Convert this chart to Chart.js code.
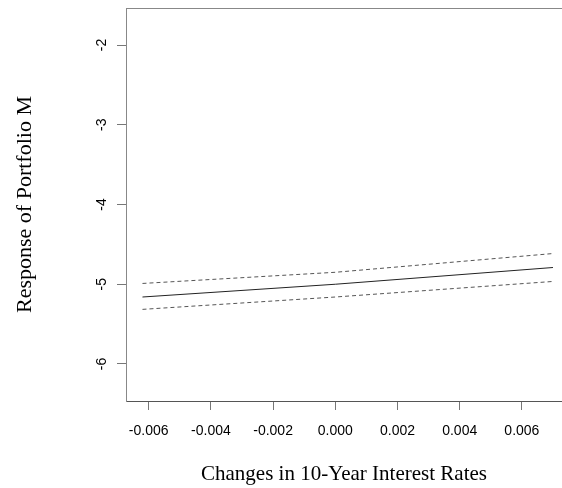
<!DOCTYPE html>
<html>
<head>
<meta charset="utf-8">
<script src="https://cdn.jsdelivr.net/npm/chart.js@4"></script>
<style>
  html, body { margin: 0; padding: 0; background: #fff; overflow: hidden; }
  #wrap { width: 562px; height: 488px; }
</style>
</head>
<body>
<div id="wrap"><canvas id="chart" width="562" height="488"></canvas></div>
<script>
// Values
const rateChange = [-0.0062, 0.0000, 0.0070];
const fitted = [-5.16, -5.00, -4.79];
const upperBand = [-4.99, -4.85, -4.615];
const lowerBand = [-5.315, -5.16, -4.965];

const xTicks = [-0.006, -0.004, -0.002, 0.000, 0.002, 0.004, 0.006];
const yTicks = [-6, -5, -4, -3, -2];

const xRange = [-0.00673, 0.00729];
const yRange = [-6.464, -1.536];

const toPoints = ys => rateChange.map((x, i) => ({ x: x, y: ys[i] }));

// top frame line (R box is cut at the right edge of the picture)
const topFrame = {
    id: 'topFrame',
    afterDraw(chart) {
        const a = chart.chartArea;
        const ctx = chart.ctx;
        ctx.save();
        ctx.strokeStyle = '#888';
        ctx.lineWidth = 1;
        ctx.beginPath();
        ctx.moveTo(a.left, a.top + 0.5);
        ctx.lineTo(a.right, a.top + 0.5);
        ctx.stroke();
        ctx.restore();
    }
};

const tickFont = { family: '"Liberation Sans", Arial, sans-serif', size: 14 };
const xTitleFont = { family: '"Liberation Serif", "Times New Roman", serif', size: 21 };
const yTitleFont = { family: '"Liberation Serif", "Times New Roman", serif', size: 22 };

new Chart(document.getElementById('chart'), {
    type: 'line',
    data: {
        datasets: [
            {
                data: toPoints(upperBand),
                borderColor: '#555',
                borderWidth: 1,
                borderDash: [4, 3],
                pointRadius: 0,
                fill: false
            },
            {
                data: toPoints(fitted),
                borderColor: '#222',
                borderWidth: 1,
                pointRadius: 0,
                fill: false
            },
            {
                data: toPoints(lowerBand),
                borderColor: '#555',
                borderWidth: 1,
                borderDash: [4, 3],
                pointRadius: 0,
                fill: false
            }
        ]
    },
    options: {
        responsive: false,
        animation: false,
        layout: { padding: { top: 8, right: 0, bottom: 0, left: 0 } },
        plugins: {
            legend: { display: false },
            tooltip: { enabled: false }
        },
        scales: {
            x: {
                type: 'linear',
                min: xRange[0],
                max: xRange[1],
                afterBuildTicks: scale => { scale.ticks = xTicks.map(v => ({ value: v })); },
                afterFit: scale => {
                    scale.height = 87;
                    scale.paddingLeft = 0;
                    scale.paddingRight = 0;
                },
                grid: { drawOnChartArea: false, drawTicks: true, tickLength: 9, tickColor: '#777' },
                border: { display: true, color: '#555', width: 1 },
                ticks: {
                    font: tickFont,
                    color: '#000',
                    padding: 13,
                    maxRotation: 0,
                    callback: v => v.toFixed(3)
                },
                title: {
                    display: true,
                    text: 'Changes in 10-Year Interest Rates',
                    font: xTitleFont,
                    color: '#000',
                    padding: { top: 0, bottom: 1 }
                }
            },
            y: {
                min: yRange[0],
                max: yRange[1],
                afterBuildTicks: scale => { scale.ticks = yTicks.map(v => ({ value: v })); },
                afterFit: scale => {
                    scale.width = 126;
                    scale.paddingTop = 0;
                    scale.paddingBottom = 0;
                },
                grid: { drawOnChartArea: false, drawTicks: true, tickLength: 9, tickColor: '#777' },
                border: { display: true, color: '#888', width: 1 },
                ticks: {
                    font: tickFont,
                    color: '#000',
                    padding: 9,
                    minRotation: 90,
                    maxRotation: 90,
                    crossAlign: 'center',
                    callback: v => String(v)
                },
                title: {
                    display: true,
                    text: 'Response of Portfolio M',
                    font: yTitleFont,
                    color: '#000',
                    padding: { top: 12, bottom: 0 }
                }
            }
        }
    },
    plugins: [topFrame]
});
</script>
</body>
</html>
